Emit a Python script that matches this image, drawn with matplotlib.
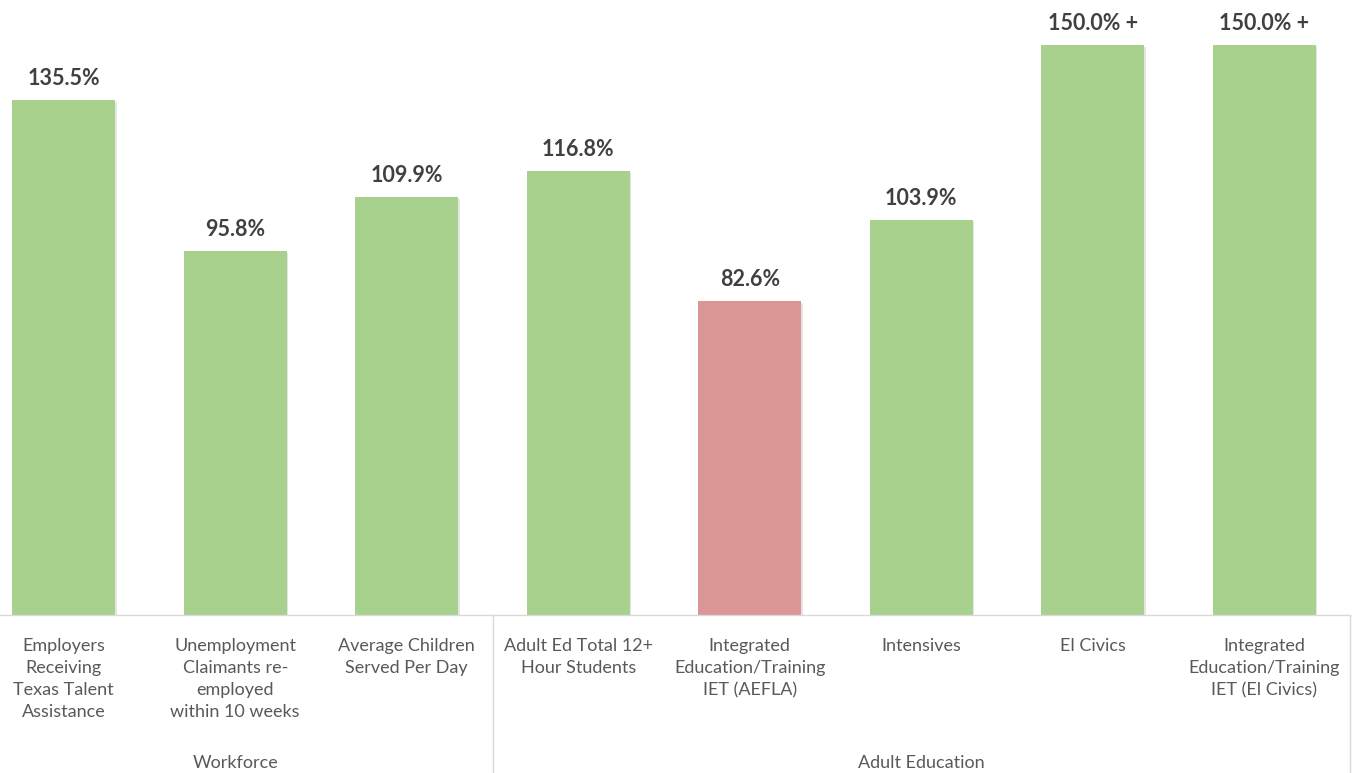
import matplotlib
matplotlib.use("Agg")
import matplotlib.pyplot as plt
import matplotlib.patheffects as pe
from matplotlib.transforms import blended_transform_factory

# Program performance (% of target)
categories = [
    "Employers\nReceiving\nTexas Talent\nAssistance",
    "Unemployment\nClaimants re-\nemployed\nwithin 10 weeks",
    "Average Children\nServed Per Day",
    "Adult Ed Total 12+\nHour Students",
    "Integrated\nEducation/Training\nIET (AEFLA)",
    "Intensives",
    "El Civics",
    "Integrated\nEducation/Training\nIET (El Civics)",
]
values = [135.5, 95.8, 109.9, 116.8, 82.6, 103.9, 150.0, 150.0]
value_labels = ["135.5%", "95.8%", "109.9%", "116.8%", "82.6%", "103.9%", "150.0% +", "150.0% +"]
met_target = [True, True, True, True, False, True, True, True]
groups = ["Workforce", "Adult Education"]
group_sizes = [3, 5]

GREEN = "#A9D18E"
RED = "#D99694"
LINE = "#D9D9D9"
LABEL = "#595959"
VALUE = "#404040"
FONT = ["Lato", "DejaVu Sans"]

W, H = 1352, 773
fig = plt.figure(figsize=(W / 100, H / 100), dpi=100)
base_px = 615
ax = fig.add_axes([0, (H - base_px) / H, 1350 / W, base_px / H])

px_per_cat = 171.5
ax.set_xlim(-0.5 + 22 / px_per_cat, len(values) - 0.5)
ax.set_ylim(0, base_px / 3.8)

x = list(range(len(values)))
colors = [GREEN if m else RED for m in met_target]
bars = ax.bar(x, values, width=0.6, color=colors, zorder=2)
for b in bars:
    b.set_path_effects([pe.SimplePatchShadow(offset=(1.2, -1.2), shadow_rgbFace="#999999", alpha=0.25),
                        pe.Normal()])

for xi, v, lab in zip(x, values, value_labels):
    ax.annotate(lab, (xi, v), xytext=(0, 15.6), textcoords="offset points",
                ha="center", va="center", fontsize=15.5, fontweight="bold",
                color=VALUE, family=FONT)

ax.set_xticks(x)
ax.set_xticklabels(categories, fontsize=13, color=LABEL, family=FONT, linespacing=1.47)
ax.tick_params(axis="x", length=0, pad=16.5)
ax.set_yticks([])
for s in ["top", "left", "right"]:
    ax.spines[s].set_visible(False)
ax.spines["bottom"].set_color(LINE)
ax.spines["bottom"].set_linewidth(1.0)

# group separators and group labels beneath the category labels
trans = blended_transform_factory(ax.transData, ax.transAxes)
bottom_frac = -(H - base_px) / base_px
start = -0.5
for g, n in zip(groups, group_sizes):
    end = start + n
    ax.plot([end, end], [0, bottom_frac], transform=trans, color=LINE, lw=1.0, clip_on=False)
    ax.text((start + end) / 2, -(763 - base_px) / base_px, g, transform=trans,
            ha="center", va="center", fontsize=13, color=LABEL, family=FONT)
    start = end

fig.savefig("out.png", dpi=100, facecolor="white")
